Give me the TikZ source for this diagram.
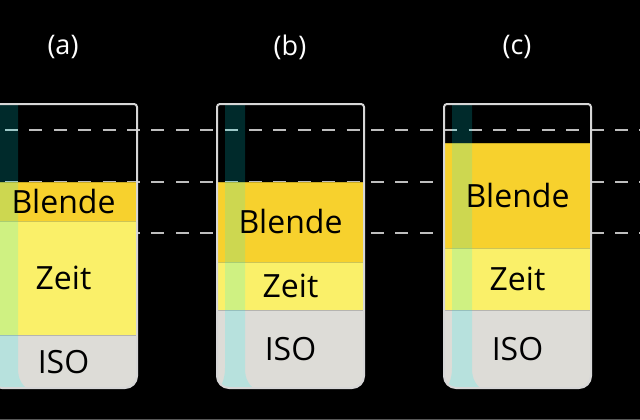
\documentclass[tikz,border=0pt]{standalone}
\usepackage{fontspec}
\setmainfont{Open Sans}
\usetikzlibrary{positioning}
\definecolor{blendecol}{RGB}{247,209,45}
\definecolor{zeitcol}{RGB}{250,240,105}
\definecolor{isocol}{RGB}{221,220,215}
\definecolor{rimcol}{RGB}{215,215,215}
\definecolor{guidecol}{RGB}{190,190,190}
\definecolor{stripcol}{RGB}{0,250,255}
\tikzset{
  band/.style={draw=black, draw opacity=0.18, line width=0.8pt},
  boxtext/.style={inner sep=0pt, text height=23pt, text depth=0pt, font=\fontsize{32}{36}\selectfont},
  heading/.style={text=white, font=\fontsize{27}{32}\selectfont},
  guide/.style={guidecol, line width=2pt, dash pattern=on 13pt off 11.4pt},
  rim/.style={rimcol, line width=2pt},
}

\begin{document}
\begin{tikzpicture}[x=1pt,y=-1pt]
\fill[black] (0,0) rectangle (640,420);
\useasboundingbox (0,0) rectangle (640,420);
\clip (0,0) rectangle (640,420);
% guide lines
\foreach \y in {130,182,233} {
\draw[guide] (5,\y) -- (640,\y);
}
% containers (a), (b), (c)
\foreach \x/\b/\z/\i/\n in {-10/182/221/335/a,217/182/262/310/b,444/143/248/310/c} {
\begin{scope}
\clip ({\x+73},104) [rounded corners=3pt] -- (\x,104) [rounded corners=12pt] -- (\x,388) -- ({\x+147},388) [rounded corners=3pt] -- ({\x+147},104) -- cycle;
\fill[blendecol] (\x,\b) rectangle ({\x+147},\z);
\fill[zeitcol] (\x,\z) rectangle ({\x+147},\i);
\fill[isocol] (\x,\i) rectangle ({\x+147},400);
\draw[band] (\x,\b) -- ({\x+147},\b);
\draw[band] (\x,\z) -- ({\x+147},\z);
\draw[band] (\x,\i) -- ({\x+147},\i);
\fill[stripcol, opacity=0.17] ({\x+8},90) -- ({\x+8},368) .. controls ({\x+8},380) and ({\x+4},386) .. ({\x},392) -- ({\x+42},392) .. controls ({\x+32},386) and ({\x+28},380) .. ({\x+28},368) -- ({\x+28},90) -- cycle;
\end{scope}
\draw[rim] ({\x+73},104) [rounded corners=3pt] -- (\x,104) [rounded corners=12pt] -- (\x,388) -- ({\x+147},388) [rounded corners=3pt] -- ({\x+147},104) -- cycle;
\node[boxtext] (blende-\n) at ({\x+73.5},{(\b+\z)/2}) {Blende};
\node[boxtext] (zeit-\n) at ({\x+73.5},{(\z+\i)/2}) {Zeit};
\node[boxtext] (iso-\n) at ({\x+73.5},{(\i+388)/2}) {ISO};
\node[heading] (label-\n) at ({\x+73},47) {(\n)};
}
\draw[black!65, line width=1pt] (0,419.5) -- (640,419.5);
\end{tikzpicture}
\end{document}
